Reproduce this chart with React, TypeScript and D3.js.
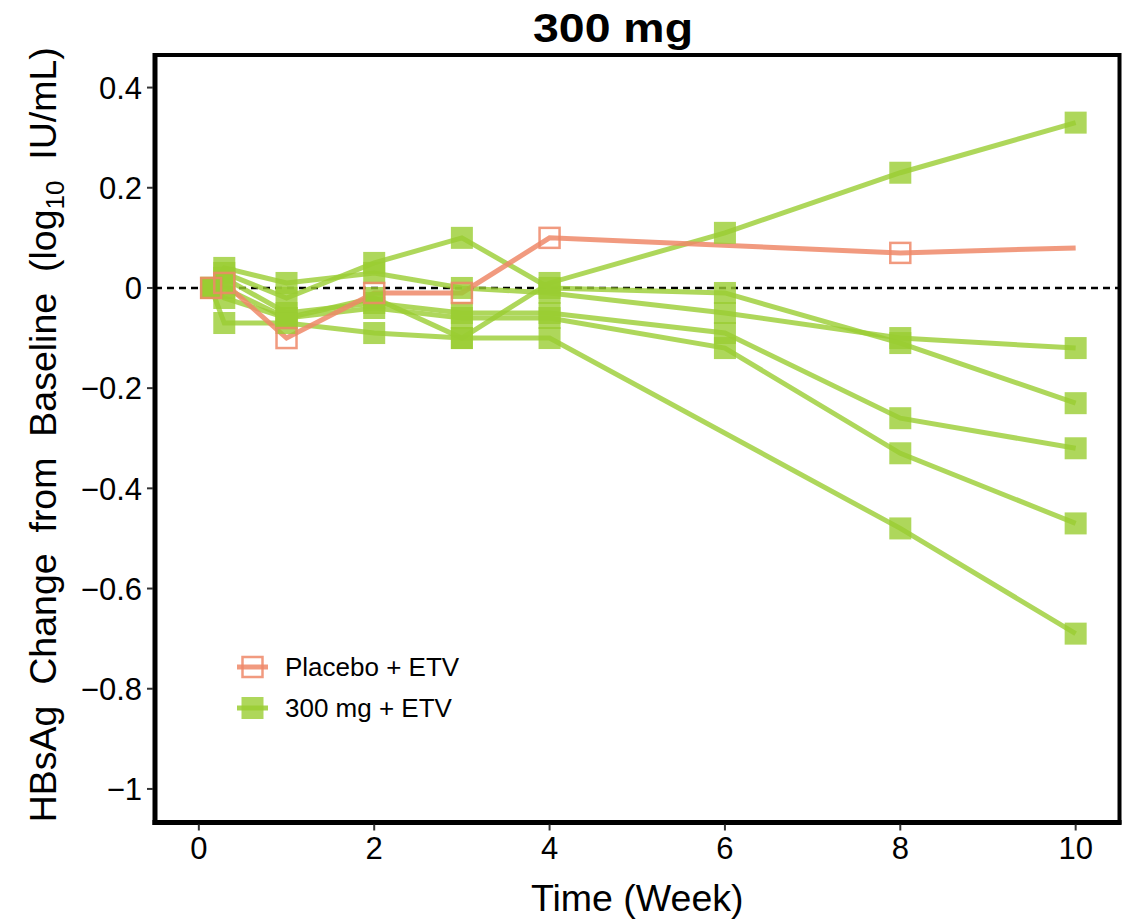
import React from 'react';
import * as d3 from 'd3';

// weeks at which HBsAg was sampled
const weeks = [0.14, 0.29, 1, 2, 3, 4, 6, 8, 10];

// 300 mg + ETV subjects (null = not sampled)
const subj1 = [0, 0.0, -0.06, -0.02, -0.1, 0.01, 0.11, 0.23, 0.33];
const subj2 = [0, 0.03, -0.02, 0.05, 0.1, 0.0, -0.01, -0.11, -0.23];
const subj3 = [0, 0.04, 0.01, 0.03, 0.0, -0.01, -0.05, -0.1, -0.12];
const subj4 = [0, 0.02, -0.05, -0.03, -0.05, -0.05, -0.09, -0.26, -0.32];
const subj5 = [0, -0.02, -0.06, -0.04, -0.06, -0.06, -0.12, -0.33, -0.47];
const subj6 = [0, -0.07, -0.07, -0.09, -0.1, -0.1, null, -0.48, -0.69];

// Placebo + ETV
const placeboWeeks = [0.14, 0.29, 1, 2, 3, 4, 8, 10];
const placeboValues = [0, 0.01, -0.1, -0.01, -0.01, 0.1, 0.07, 0.08];
const placeboMarked = [true, true, true, true, true, true, true, false];

const xTicks = [0, 2, 4, 6, 8, 10];
const yTicks = [0.4, 0.2, 0, -0.2, -0.4, -0.6, -0.8, -1];
const legendLabels = ['Placebo + ETV', '300 mg + ETV'];

const GREEN = 'rgb(154,205,50)';
const RED = '#EE8868';
const FONT = '"Liberation Sans", Arial, sans-serif';

const App = () => {
  const W = 1127;
  const H = 921;
  const left = 155, right = 1119.5, top = 55, bottom = 822.5;

  const x = d3.scaleLinear().domain([-0.5, 10.5]).range([left, right]);
  const y = d3.scaleLinear().domain([-1.067, 0.465]).range([bottom, top]);

  const greenSeries = [subj1, subj2, subj3, subj4, subj5, subj6].map(vals =>
    weeks.map((w, i) => ({ w, v: vals[i] })).filter(d => d.v !== null)
  );
  const placebo = placeboWeeks.map((w, i) => ({ w, v: placeboValues[i], m: placeboMarked[i] }));

  const line = d3.line<any>().x(d => x(d.w)).y(d => y(d.v));
  const sq = 22;

  const fmt = (v: number) => (v === 0 ? '0' : v === -1 ? '\u22121' : d3.format('.1f')(v).replace('-', '\u2212'));

  return (
    <svg width={W} height={H} style={{ position: 'absolute', left: 0, top: 0, background: '#fff' }}>
      {/* title */}
      <text x={613} y={42} textAnchor="middle" fontFamily={FONT} fontWeight="bold" fontSize={41}
        textLength={160} lengthAdjust="spacingAndGlyphs">300 mg</text>

      {/* zero reference */}
      <line x1={left} x2={right} y1={y(0)} y2={y(0)} stroke="#000" strokeWidth={2.5} strokeDasharray="7,5" />

      {/* lines */}
      {greenSeries.map((s, i) => (
        <path key={'gl' + i} d={line(s) || ''} fill="none" stroke={GREEN} strokeOpacity={0.8} strokeWidth={5} />
      ))}
      <path d={line(placebo) || ''} fill="none" stroke={RED} strokeOpacity={0.85} strokeWidth={5} />

      {/* points */}
      {greenSeries.map((s, i) => s.map((d, j) => (
        <rect key={'gp' + i + '-' + j} x={x(d.w) - sq / 2} y={y(d.v) - sq / 2} width={sq} height={sq}
          fill={GREEN} fillOpacity={0.8} />
      )))}
      {placebo.filter(d => d.m).map((d, j) => (
        <rect key={'pp' + j} x={x(d.w) - sq / 2 + 1} y={y(d.v) - sq / 2 + 1} width={sq - 2} height={sq - 2}
          fill="none" stroke={RED} strokeOpacity={0.85} strokeWidth={2.5} />
      ))}

      {/* panel border */}
      <rect x={left} y={top} width={right - left} height={bottom - top} fill="none" stroke="#000" strokeWidth={4} />
      <line x1={left} x2={left} y1={top - 2} y2={bottom + 2.5} stroke="#000" strokeWidth={5} />
      <line x1={left - 2.5} x2={right + 2} y1={bottom} y2={bottom} stroke="#000" strokeWidth={5} />

      {/* y axis */}
      {yTicks.map(t => (
        <g key={'yt' + t}>
          <line x1={left - 8} x2={left - 2} y1={y(t)} y2={y(t)} stroke="#333" strokeWidth={2} />
          <text x={142} y={y(t)} dy="0.36em" textAnchor="end" fontFamily={FONT} fontSize={31} fill="#000">{fmt(t)}</text>
        </g>
      ))}
      {/* x axis */}
      {xTicks.map(t => (
        <g key={'xt' + t}>
          <line x1={x(t)} x2={x(t)} y1={bottom + 2} y2={bottom + 8} stroke="#333" strokeWidth={2} />
          <text x={x(t)} y={859} textAnchor="middle" fontFamily={FONT} fontSize={31} fill="#000">{t}</text>
        </g>
      ))}

      <text x={(left + right) / 2} y={911} textAnchor="middle" fontFamily={FONT} fontSize={37.5}>Time (Week)</text>

      <text transform={`translate(56,${(top + bottom) / 2 - 4}) rotate(-90)`} textAnchor="middle" fontFamily={FONT}
        fontSize={37.5} style={{ whiteSpace: 'pre' }}>
        {'HBsAg  Change  from  Baseline  (log'}
        <tspan fontSize={26} dy={8}>10</tspan>
        <tspan dy={-8}>{'  IU/mL)'}</tspan>
      </text>

      {/* legend */}
      {legendLabels.map((lab, i) => {
        const cy = 667 + i * 41;
        return (
          <g key={'lg' + i}>
            <line x1={237} x2={268} y1={cy} y2={cy} stroke={i === 0 ? RED : GREEN} strokeOpacity={0.85} strokeWidth={5} />
            {i === 0 ? (
              <rect x={242.5} y={cy - 10} width={20} height={20} fill="none" stroke={RED} strokeOpacity={0.85} strokeWidth={2.5} />
            ) : (
              <rect x={241.5} y={cy - 11} width={22} height={22} fill={GREEN} fillOpacity={0.8} />
            )}
            <text x={285} y={cy} dy="0.36em" fontFamily={FONT} fontSize={26}>{lab}</text>
          </g>
        );
      })}
    </svg>
  );
};

export default App;
